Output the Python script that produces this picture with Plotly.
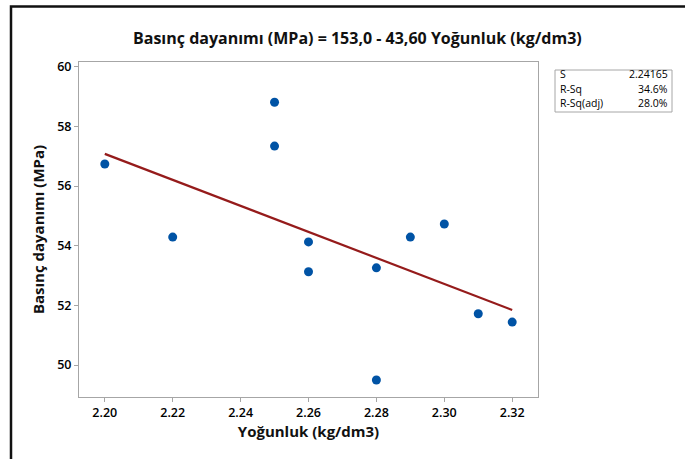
import plotly.graph_objects as go

density = [2.20, 2.22, 2.25, 2.25, 2.26, 2.26, 2.28, 2.28, 2.29, 2.30, 2.31, 2.32]
strength = [56.74, 54.29, 58.81, 57.34, 54.13, 53.13, 53.26, 49.50, 54.29, 54.73, 51.72, 51.44]
intercept = 153.0
slope = -43.60
stats_labels = ["S", "R-Sq", "R-Sq(adj)"]
stats_values = ["2.24165", "34.6%", "28.0%"]
x_ticks = [2.20, 2.22, 2.24, 2.26, 2.28, 2.30, 2.32]
y_ticks = [50, 52, 54, 56, 58, 60]

W, H = 685, 459
L, R, T, B = 79, 538, 62, 397
def px(x):
    return (x - L) / (R - L)
def py(y):
    return 1 - (y - T) / (B - T)

FONT = "Open Sans"
fit_x = [min(density), max(density)]
fit_y = [intercept + slope * v for v in fit_x]

fig = go.Figure()
fig.add_trace(go.Scatter(x=fit_x, y=fit_y, mode="lines",
                         line=dict(color="#951b1b", width=2.2), hoverinfo="skip"))
fig.add_trace(go.Scatter(x=density, y=strength, mode="markers",
                         marker=dict(color="#0053a5", size=9)))

axis_common = dict(showgrid=False, zeroline=False, showline=True, linecolor="#a6a6a6",
                   linewidth=1, mirror=True, ticks="outside", tickcolor="#a6a6a6",
                   ticklen=4, tickfont=dict(family=FONT, size=12.5, color="#000000", weight=600))
fig.update_xaxes(range=[2.1924, 2.3276], tickvals=x_ticks,
                 ticktext=[f"{v:.2f}" for v in x_ticks],
                 title=dict(text="<b>Yoğunluk (kg/dm3)</b>", font=dict(family=FONT, size=15, color="#111111"), standoff=6),
                 **axis_common)
fig.update_yaxes(range=[48.93, 60.16], tickvals=y_ticks,
                 title=dict(text="<b>Basınç dayanımı (MPa)</b>", font=dict(family=FONT, size=15, color="#111111"), standoff=8),
                 **axis_common)

annotations = [dict(text="<b>Basınç dayanımı (MPa) = 153,0 - 43,60 Yoğunluk (kg/dm3)</b>",
                    x=px(357), y=py(38), xref="paper", yref="paper", showarrow=False,
                    xanchor="center", yanchor="middle",
                    font=dict(family=FONT, size=16, color="#111111"))]
rows_y = [74.3, 88.6, 102.8]
for lab, val, yy in zip(stats_labels, stats_values, rows_y):
    annotations.append(dict(text=lab, x=px(559), y=py(yy), xref="paper", yref="paper",
                            showarrow=False, xanchor="left", yanchor="middle", borderpad=0,
                            font=dict(family=FONT, size=10.5, color="#000000", weight=500)))
    annotations.append(dict(text=val, x=px(669), y=py(yy), xref="paper", yref="paper",
                            showarrow=False, xanchor="right", yanchor="middle", borderpad=0,
                            font=dict(family=FONT, size=10.5, color="#000000", weight=500)))

shapes = [
    dict(type="rect", xref="paper", yref="paper", x0=px(555), x1=px(672), y0=py(112), y1=py(70),
         line=dict(color="#a6a6a6", width=1)),
    dict(type="rect", xref="paper", yref="paper", x0=px(11), x1=px(700), y0=py(470), y1=py(6.5),
         line=dict(color="#111111", width=2.5)),
]

fig.update_layout(width=W, height=H, margin=dict(l=L, r=W - R, t=T, b=H - B),
                  paper_bgcolor="white", plot_bgcolor="white", showlegend=False,
                  annotations=annotations, shapes=shapes)
fig.write_html("out.html")
